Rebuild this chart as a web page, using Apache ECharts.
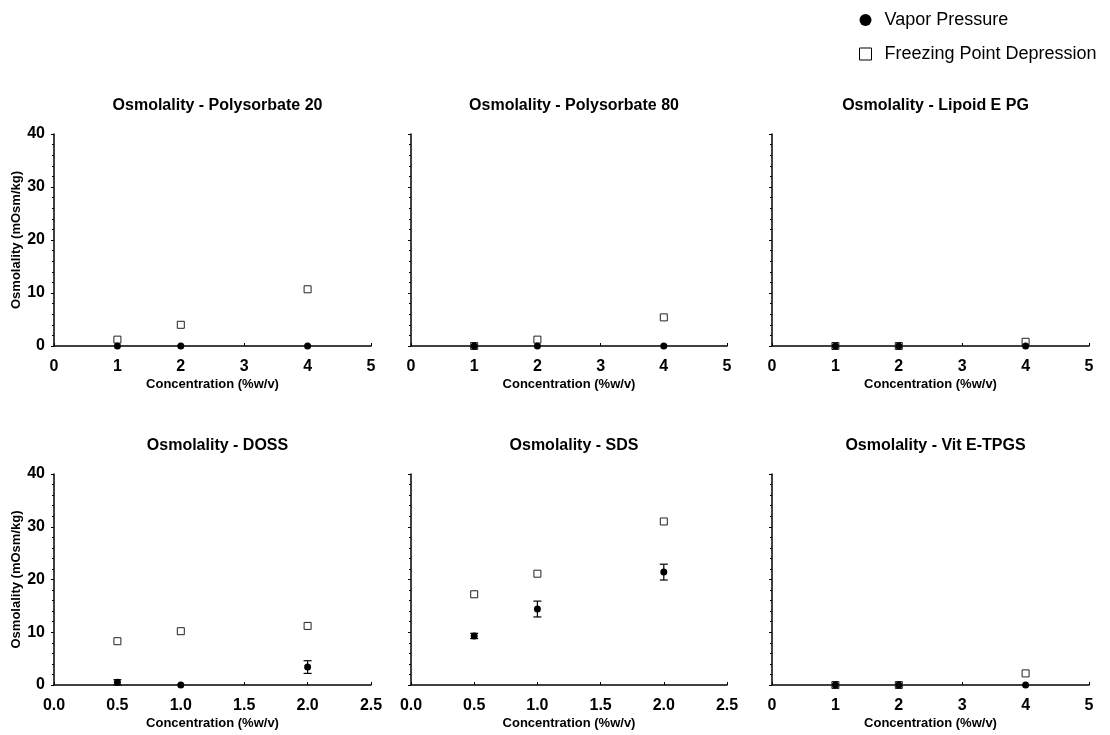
<!DOCTYPE html>
<html>
<head>
<meta charset="utf-8">
<script src="https://cdn.jsdelivr.net/npm/echarts@6/dist/echarts.min.js"></script>
<style>html,body{margin:0;padding:0;background:#fff}#c{width:1110px;height:735px}</style>
</head>
<body>
<div id="c"></div>
<script>
// ---- data ----
const panelTitles = ['Osmolality - Polysorbate 20','Osmolality - Polysorbate 80','Osmolality - Lipoid E PG',
                     'Osmolality - DOSS','Osmolality - SDS','Osmolality - Vit E-TPGS'];
const concWide = [1, 2, 4];
const concNarrow = [0.5, 1.0, 2.0];
const ps20VP = [0, 0, 0];        const ps20VPErr = [0, 0, 0];     const ps20FPD = [1.2, 4.0, 10.7];
const ps80VP = [0, 0, 0];        const ps80VPErr = [0, 0, 0];     const ps80FPD = [0, 1.2, 5.4];
const lipoidVP = [0, 0, 0];      const lipoidVPErr = [0, 0, 0];   const lipoidFPD = [0, 0, 0.8];
const dossVP = [0.5, 0, 3.4];    const dossVPErr = [0.5, 0, 1.2]; const dossFPD = [8.3, 10.2, 11.2];
const sdsVP = [9.3, 14.4, 21.4]; const sdsVPErr = [0.5, 1.5, 1.5]; const sdsFPD = [17.2, 21.1, 31.0];
const vitVP = [0, 0, 0];         const vitVPErr = [0, 0, 0];      const vitFPD = [0, 0, 2.2];
const yTicks = [0, 10, 20, 30, 40];
const xTicksWide = [0, 1, 2, 3, 4, 5];
const xTicksNarrow = [0.0, 0.5, 1.0, 1.5, 2.0, 2.5];

const panels = [
  {conc: concWide, vp: ps20VP, err: ps20VPErr, fpd: ps20FPD, narrow: false},
  {conc: concWide, vp: ps80VP, err: ps80VPErr, fpd: ps80FPD, narrow: false},
  {conc: concWide, vp: lipoidVP, err: lipoidVPErr, fpd: lipoidFPD, narrow: false},
  {conc: concNarrow, vp: dossVP, err: dossVPErr, fpd: dossFPD, narrow: true},
  {conc: concNarrow, vp: sdsVP, err: sdsVPErr, fpd: sdsFPD, narrow: true},
  {conc: concWide, vp: vitVP, err: vitVPErr, fpd: vitFPD, narrow: false}
];

// ---- layout ----
const FONT = '"Liberation Sans", Arial, sans-serif';
const colLeft = [54, 411, 772];
const colWidth = [317, 316, 317];
const rowTop = [134, 474];
const rowHeight = [212, 211];

const grids = [], xAxes = [], yAxes = [], series = [], titles = [];
panels.forEach((p, i) => {
  const col = i % 3, row = Math.floor(i / 3);
  grids.push({left: colLeft[col], top: rowTop[row], width: colWidth[col], height: rowHeight[row]});
  titles.push({
    text: panelTitles[i],
    left: colLeft[col] + colWidth[col] / 2, top: rowTop[row] - 41, textAlign: 'center',
    textStyle: {fontFamily: FONT, fontSize: 16, fontWeight: 'bold', color: '#000'}
  });
  const ticks = p.narrow ? xTicksNarrow : xTicksWide;
  xAxes.push({
    gridIndex: i, type: 'value', min: ticks[0], max: ticks[ticks.length - 1],
    interval: ticks[1] - ticks[0],
    name: 'Concentration (%w/v)', nameLocation: 'middle', nameGap: 32,
    nameTextStyle: {fontFamily: FONT, fontSize: 13, fontWeight: 'bold', color: '#000'},
    axisLine: {lineStyle: {color: '#000', width: 1.5}},
    axisTick: {show: true, inside: true, length: 3, lineStyle: {color: '#000'}},
    axisLabel: {fontFamily: FONT, fontSize: 16, fontWeight: 'bold', color: '#000', margin: 13,
      formatter: v => p.narrow ? v.toFixed(1) : String(v)},
    splitLine: {show: false}
  });
  yAxes.push({
    gridIndex: i, type: 'value', min: yTicks[0], max: yTicks[yTicks.length - 1], interval: yTicks[1] - yTicks[0],
    name: col === 0 ? 'Osmolality (mOsm/kg)' : '', nameLocation: 'middle', nameGap: 31,
    nameTextStyle: {fontFamily: FONT, fontSize: 13, fontWeight: 'bold', color: '#000'},
    axisLine: {show: true, lineStyle: {color: '#000', width: 1.5}},
    axisTick: {show: true, length: 3, lineStyle: {color: '#000'}},
    minorTick: {show: true, splitNumber: 5, length: 2, lineStyle: {color: '#000'}},
    axisLabel: {show: col === 0, fontFamily: FONT, fontSize: 16, fontWeight: 'bold', color: '#000', margin: 9},
    splitLine: {show: false}
  });
  series.push({
    name: 'Freezing Point Depression', type: 'scatter', xAxisIndex: i, yAxisIndex: i,
    symbol: 'rect', symbolSize: 7,
    itemStyle: {color: '#fff', borderColor: '#222', borderWidth: 1, opacity: 1},
    data: p.conc.map((c, k) => [c, p.fpd[k]]), z: 2
  });
  series.push({
    name: 'Vapor Pressure err', type: 'custom', xAxisIndex: i, yAxisIndex: i,
    data: p.conc.map((c, k) => [c, p.vp[k] - p.err[k], p.vp[k] + p.err[k]]),
    renderItem: (params, api) => {
      const lo = api.coord([api.value(0), api.value(1)]);
      const hi = api.coord([api.value(0), api.value(2)]);
      if (Math.abs(hi[1] - lo[1]) < 1) return {type: 'group', children: []};
      const w = 4;
      const st = {stroke: '#000', lineWidth: 1.2};
      return {type: 'group', children: [
        {type: 'line', shape: {x1: lo[0], y1: lo[1], x2: hi[0], y2: hi[1]}, style: st},
        {type: 'line', shape: {x1: lo[0] - w, y1: lo[1], x2: lo[0] + w, y2: lo[1]}, style: st},
        {type: 'line', shape: {x1: hi[0] - w, y1: hi[1], x2: hi[0] + w, y2: hi[1]}, style: st}
      ]};
    },
    z: 3, silent: true
  });
  series.push({
    name: 'Vapor Pressure', type: 'scatter', xAxisIndex: i, yAxisIndex: i,
    symbol: 'circle', symbolSize: 7,
    itemStyle: {color: '#000', opacity: 1},
    data: p.conc.map((c, k) => [c, p.vp[k]]), z: 4
  });
});

const chart = echarts.init(document.getElementById('c'), null, {renderer: 'canvas'});
chart.setOption({
  animation: false,
  backgroundColor: '#fff',
  title: titles,
  legend: {
    orient: 'vertical', left: 854, top: 6, itemGap: 16, itemWidth: 12, itemHeight: 12,
    data: [
      {name: 'Vapor Pressure', icon: 'circle', itemStyle: {color: '#000', opacity: 1}},
      {name: 'Freezing Point Depression', icon: 'rect', itemStyle: {color: '#fff', borderColor: '#000', borderWidth: 1, opacity: 1}}
    ],
    textStyle: {fontFamily: FONT, fontSize: 18, color: '#000', padding: [0, 0, 0, 8]}
  },
  grid: grids,
  xAxis: xAxes,
  yAxis: yAxes,
  series: series
});
</script>
</body>
</html>
